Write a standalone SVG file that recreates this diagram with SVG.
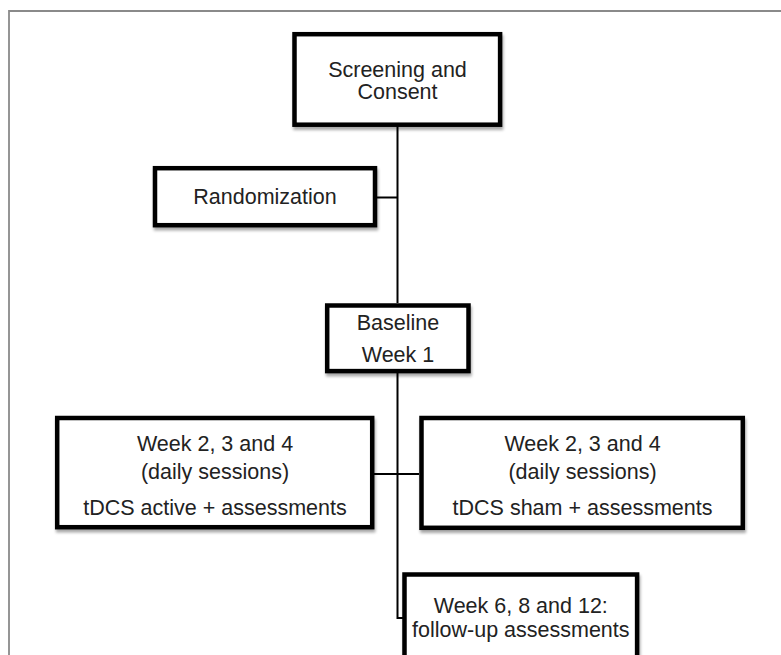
<svg xmlns="http://www.w3.org/2000/svg" width="781" height="655" viewBox="0 0 781 655">
<defs>
<filter id="sh" x="-10%" y="-10%" width="130%" height="140%">
<feGaussianBlur in="SourceAlpha" stdDeviation="1.5"/>
<feOffset dx="1" dy="2.5" result="b"/>
<feComponentTransfer><feFuncA type="linear" slope="0.35"/></feComponentTransfer>
<feMerge><feMergeNode/><feMergeNode in="SourceGraphic"/></feMerge>
</filter>
</defs>
<style>
.box{fill:#fff;stroke:#000;stroke-width:4.5;filter:url(#sh)}
.t{font-family:"Liberation Sans",Arial,sans-serif;font-size:21.5px;fill:#222;text-anchor:middle}
.c{fill:none;stroke:#000;stroke-width:2}
</style>
<rect width="781" height="655" fill="#fff"/>
<path d="M9,655 V11 H781" fill="none" stroke="#8a8a8a" stroke-width="1.8"/>
<g id="connectors">
<path class="c" d="M397.5,125 V303"/>
<path class="c" d="M377,197.5 H397.5"/>
<path class="c" d="M397.5,373 V618 H404"/>
<path class="c" d="M374,474 H419"/>
</g>
<g id="screening">
<rect class="box" x="294.5" y="34.2" width="205.6" height="90.5"/>
<text class="t" x="397.5" y="76.7">Screening and</text>
<text class="t" x="397.5" y="99">Consent</text>
</g>
<g id="randomization">
<rect class="box" x="155" y="168.2" width="220" height="57"/>
<text class="t" x="265" y="204.3">Randomization</text>
</g>
<g id="baseline">
<rect class="box" x="327.2" y="305.5" width="141.3" height="65.6"/>
<text class="t" x="398" y="330">Baseline</text>
<text class="t" x="398" y="361.7">Week 1</text>
</g>
<g id="active">
<rect class="box" x="57.2" y="418" width="315" height="109.2"/>
<text class="t" x="215" y="450.7">Week 2, 3 and 4</text>
<text class="t" x="215" y="479">(daily sessions)</text>
<text class="t" x="215" y="515">tDCS active + assessments</text>
</g>
<g id="sham">
<rect class="box" x="421.5" y="418" width="321.3" height="109.8"/>
<text class="t" x="582.5" y="450.7">Week 2, 3 and 4</text>
<text class="t" x="582.5" y="479">(daily sessions)</text>
<text class="t" x="582.5" y="515">tDCS sham + assessments</text>
</g>
<g id="followup">
<rect class="box" x="404.5" y="574.5" width="232.6" height="120"/>
<text class="t" x="520.8" y="613.3">Week 6, 8 and 12:</text>
<text class="t" x="520.8" y="636.7">follow-up assessments</text>
</g>
</svg>
